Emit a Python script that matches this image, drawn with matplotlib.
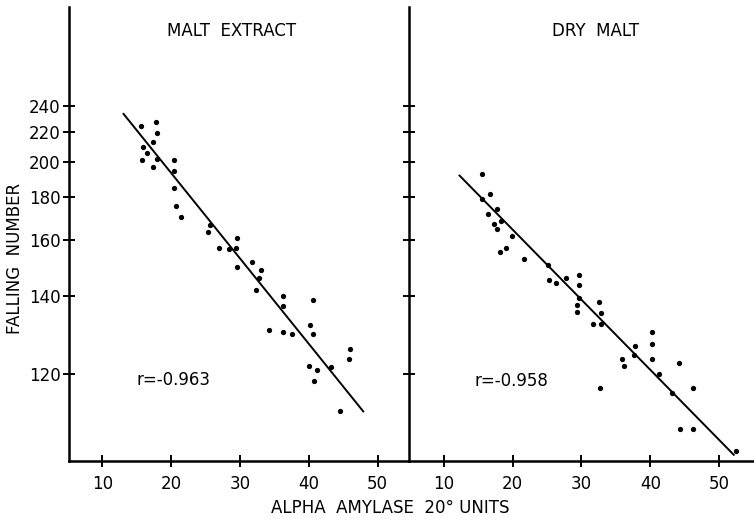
import numpy as np
import matplotlib
matplotlib.use("Agg")
import matplotlib.pyplot as plt

plt.rcParams['font.family'] = ['DejaVu Sans']

# ---- data ----
extract_amylase = [15.6, 17.8, 18.0, 17.3, 15.9, 16.5, 15.7, 17.9, 17.4, 20.4,
                   20.4, 20.4, 20.7, 21.5, 25.7, 25.4, 26.9, 28.4, 29.5, 29.4,
                   29.5, 31.7, 33.0, 32.7, 32.3, 36.3, 36.3, 40.6, 34.2, 36.2,
                   37.5, 40.2, 40.6, 40.0, 41.2, 40.8, 43.2, 46.0, 45.9, 44.6]
extract_fn = [224.8, 227.9, 219.2, 213.3, 209.9, 205.9, 201.5, 201.7, 196.8, 201.5,
              194.7, 184.7, 175.4, 170.3, 166.5, 163.4, 156.9, 156.3, 160.8, 157.0,
              149.6, 151.5, 148.5, 145.7, 141.8, 139.8, 137.0, 138.6, 130.3, 129.7,
              129.1, 131.6, 129.2, 121.7, 120.9, 118.6, 121.4, 125.4, 123.2, 113.0]
extract_fit_x = [13.0, 48.0]
extract_fit_y = [234.5, 112.8]

dry_amylase = [15.5, 16.7, 15.6, 17.8, 16.5, 18.3, 17.3, 17.7, 19.9, 19.0,
               18.2, 21.6, 25.2, 25.3, 26.3, 27.8, 29.7, 29.7, 29.6, 29.4,
               29.4, 32.5, 32.9, 31.6, 32.9, 40.2, 40.2, 37.7, 37.6, 35.9,
               36.1, 40.2, 41.3, 32.7, 44.1, 43.2, 46.2, 44.3, 46.2, 52.4]
dry_fn = [192.6, 181.7, 178.9, 173.9, 171.7, 168.5, 167.2, 164.9, 161.8, 157.0,
          155.4, 152.7, 150.5, 145.2, 144.2, 145.6, 146.7, 143.5, 139.4, 137.2,
          135.2, 138.2, 134.9, 131.8, 131.9, 129.7, 126.7, 126.3, 124.0, 123.2,
          121.6, 123.1, 120.0, 117.2, 122.3, 116.2, 117.2, 110.1, 110.0, 106.8]
dry_fit_x = [12.2, 52.2]
dry_fit_y = [192.2, 106.2]

panel_titles = ["MALT  EXTRACT", "DRY  MALT"]
r_labels = ["r=-0.963", "r=-0.958"]
y_ticks = [120, 140, 160, 180, 200, 220, 240]
x_ticks = [10, 20, 30, 40, 50]

# ---- figure ----
fig = plt.figure(figsize=(7.54, 5.21), dpi=100)
fig.patch.set_facecolor('white')

ax1 = fig.add_axes([0.0915, 0.1157, 0.4513, 0.8709])
ax2 = fig.add_axes([0.5428, 0.1157, 0.4572, 0.8709], sharey=ax1)

fwd = lambda y: np.log(np.maximum(np.asarray(y, dtype=float) - 80.0, 1e-6))
inv = lambda u: np.exp(u) + 80.0

for ax in (ax1, ax2):
    ax.set_yscale('function', functions=(fwd, inv))

ax1.set_ylim(105.5, 347.9)
ax1.set_xlim(5.16, 54.6)
ax2.set_xlim(5.0, 55.04)

datasets = [(ax1, extract_amylase, extract_fn, extract_fit_x, extract_fit_y),
            (ax2, dry_amylase, dry_fn, dry_fit_x, dry_fit_y)]
for ax, xs, ys, fx, fy in datasets:
    ax.plot(xs, ys, 'o', color='black', markersize=3.8, markeredgewidth=0)
    ax.plot(fx, fy, '-', color='black', linewidth=1.4, solid_capstyle='butt')
    for side in ('top', 'right'):
        ax.spines[side].set_visible(False)
    for side in ('left', 'bottom'):
        ax.spines[side].set_linewidth(1.8)
    ax.set_xticks(x_ticks)
    ax.set_xticklabels([str(v) for v in x_ticks])
    ax.set_yticks(y_ticks)
    ax.yaxis.set_minor_locator(matplotlib.ticker.NullLocator())
    ax.tick_params(axis='both', direction='inout', length=8, width=1.4,
                   labelsize=12, colors='black')
    ax.tick_params(axis='x', pad=6)
    ax.tick_params(axis='y', pad=2)
    ax.set_facecolor('none')

ax1.set_yticklabels([str(v) for v in y_ticks])
ax2.tick_params(axis='y', labelleft=False)

ax1.text(0.479, 0.947, panel_titles[0], transform=ax1.transAxes,
         ha='center', va='center', fontsize=12)
ax2.text(0.539, 0.947, panel_titles[1], transform=ax2.transAxes,
         ha='center', va='center', fontsize=12)

ax1.text(15.0, 118.8, r_labels[0], ha='left', va='center', fontsize=12)
ax2.text(14.5, 118.6, r_labels[1], ha='left', va='center', fontsize=12)

fig.text(15 / 754, 1 - 258 / 521, "FALLING  NUMBER", rotation=90,
         ha='center', va='center', fontsize=12)
fig.text(390 / 754, 1 - 508 / 521, "ALPHA  AMYLASE  20° UNITS",
         ha='center', va='center', fontsize=12)

fig.savefig("out.png", dpi=100, facecolor='white')
